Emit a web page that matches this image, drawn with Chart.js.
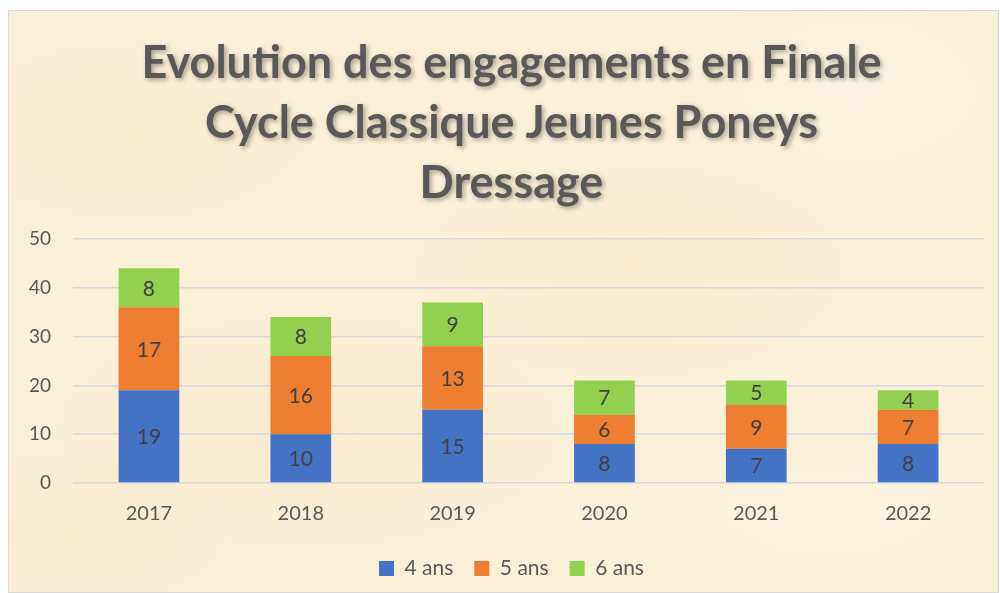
<!DOCTYPE html>
<html>
<head>
<meta charset="utf-8">
<script src="https://cdn.jsdelivr.net/npm/chart.js@4"></script>
<style>
  html, body { margin: 0; padding: 0; background: #fff; }
  #box {
    position: absolute; left: 8px; top: 10px; width: 991px; height: 583px;
    border: 1px solid #d9d9d9; box-sizing: border-box;
    background-color: #faefd7;
    background-image:
      radial-gradient(ellipse 180px 90px at 120px 120px, rgba(242,226,188,0.4), rgba(242,226,188,0)),
      radial-gradient(ellipse 220px 110px at 620px 260px, rgba(244,228,190,0.4), rgba(244,228,190,0)),
      radial-gradient(ellipse 200px 120px at 850px 80px, rgba(252,246,230,0.7), rgba(252,246,230,0)),
      radial-gradient(ellipse 260px 120px at 300px 420px, rgba(243,226,188,0.35), rgba(243,226,188,0)),
      radial-gradient(ellipse 240px 100px at 820px 500px, rgba(252,245,228,0.6), rgba(252,245,228,0)),
      radial-gradient(ellipse 160px 80px at 60px 520px, rgba(240,224,184,0.35), rgba(240,224,184,0));
  }
  canvas { display: block; }
</style>
</head>
<body>
<div id="box"><canvas id="chart" width="989" height="581"></canvas></div>
<script>
const years = ['2017', '2018', '2019', '2020', '2021', '2022'];
const ans4 = [19, 10, 15, 8, 7, 8];
const ans5 = [17, 16, 13, 6, 9, 7];
const ans6 = [8, 8, 9, 7, 5, 4];
const yTicks = [0, 10, 20, 30, 40, 50];
const titleLines = ['Evolution des engagements en Finale', 'Cycle Classique Jeunes Poneys', 'Dressage'];

const textGray = '#595959';
const fontFamily = 'Lato, "Open Sans", sans-serif';

// title drawn by hand so it can carry the soft shadow
const titlePlugin = {
    id: 'shadowTitle',
    afterDraw(chart) {
        const ctx = chart.ctx;
        ctx.save();
        ctx.font = 'bold 45px ' + fontFamily;
        ctx.fillStyle = textGray;
        ctx.textAlign = 'center';
        ctx.textBaseline = 'middle';
        ctx.shadowColor = 'rgba(0,0,0,0.35)';
        ctx.shadowBlur = 5;
        ctx.shadowOffsetX = 2;
        ctx.shadowOffsetY = 2;
        const cx = chart.width / 2 + 8;
        titleLines.forEach((line, i) => ctx.fillText(line, cx, 52 + i * 60));
        ctx.restore();
    }
};

// value labels in the middle of each segment
const valueLabels = {
    id: 'valueLabels',
    afterDatasetsDraw(chart) {
        const ctx = chart.ctx;
        ctx.save();
        ctx.font = '21px ' + fontFamily;
        ctx.fillStyle = '#404040';
        ctx.textAlign = 'center';
        ctx.textBaseline = 'middle';
        chart.data.datasets.forEach((ds, di) => {
            chart.getDatasetMeta(di).data.forEach((bar, i) => {
                const mid = (bar.y + bar.base) / 2;
                ctx.fillText(String(ds.data[i]), bar.x, mid + 1);
            });
        });
        ctx.restore();
    }
};

// legend sits a little right of centre in the original
const legendShift = {
    id: 'legendShift',
    afterLayout(chart) {
        chart.legend.left += 16;
        chart.legend.right += 16;
    }
};

new Chart(document.getElementById('chart'), {
    type: 'bar',
    data: {
        labels: years,
        datasets: [
            { label: '4 ans', data: ans4, backgroundColor: '#4472c4' },
            { label: '5 ans', data: ans5, backgroundColor: '#ed7d31' },
            { label: '6 ans', data: ans6, backgroundColor: '#92d050' }
        ]
    },
    options: {
        responsive: false,
        animation: false,
        layout: { padding: { top: 228, right: 14, left: -2, bottom: 3 } },
        datasets: { bar: { barPercentage: 0.4, categoryPercentage: 1.0, borderWidth: 0 } },
        plugins: {
            title: { display: false },
            tooltip: { enabled: false },
            legend: {
                position: 'bottom',
                labels: {
                    color: textGray,
                    font: { family: fontFamily, size: 21 },
                    boxWidth: 15,
                    boxHeight: 15,
                    padding: 21
                }
            }
        },
        scales: {
            x: {
                stacked: true,
                grid: { display: false },
                border: { display: false },
                ticks: { color: textGray, font: { family: fontFamily, size: 20 }, padding: 11 }
            },
            y: {
                stacked: true,
                min: 0,
                max: 50,
                afterBuildTicks(axis) { axis.ticks = yTicks.map(v => ({ value: v })); },
                grid: { color: '#d5d8de', lineWidth: 1.5, drawTicks: false },
                border: { display: false },
                ticks: { color: textGray, font: { family: fontFamily, size: 19 }, padding: 22 }
            }
        }
    },
    plugins: [titlePlugin, valueLabels, legendShift]
});
</script>
</body>
</html>
